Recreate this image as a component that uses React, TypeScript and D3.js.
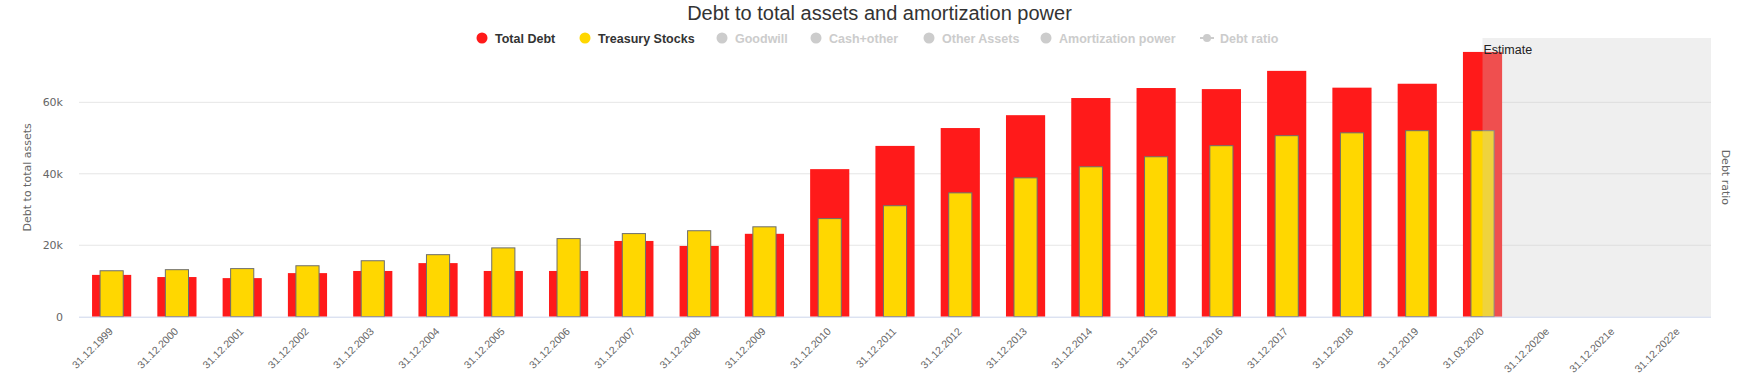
import * as d3 from 'd3';

const categories = [
  '31.12.1999', '31.12.2000', '31.12.2001', '31.12.2002', '31.12.2003',
  '31.12.2004', '31.12.2005', '31.12.2006', '31.12.2007', '31.12.2008',
  '31.12.2009', '31.12.2010', '31.12.2011', '31.12.2012', '31.12.2013',
  '31.12.2014', '31.12.2015', '31.12.2016', '31.12.2017', '31.12.2018',
  '31.12.2019', '31.03.2020', '31.12.2020e', '31.12.2021e', '31.12.2022e',
];

const totalDebt = [
  11700, 11100, 10800, 12200, 12800, 15000, 12800, 12800, 21200, 19800,
  23200, 41300, 47800, 52800, 56400, 61200, 64000, 63700, 68800, 64100,
  65200, 74100, null, null, null,
];

const treasuryStocks = [
  13000, 13300, 13600, 14400, 15800, 17500, 19400, 22000, 23400, 24200,
  25300, 27600, 31200, 34800, 39000, 42100, 44900, 48000, 50800, 51600,
  52200, 52200, null, null, null,
];

const yTicks = [0, 20000, 40000, 60000];

const legendNames = ['Total Debt', 'Treasury Stocks', 'Goodwill', 'Cash+other', 'Other Assets', 'Amortization power', 'Debt ratio'];
const legendColors = ['#ff1a1a', '#ffd700', '#cccccc', '#cccccc', '#cccccc', '#cccccc', '#cccccc'];
const legendActive = [true, true, false, false, false, false, false];
// x of each legend symbol
const legendX = [482, 585, 722, 816, 929, 1046, 1207];

const estimateFrom = '31.03.2020';

const specs = {
  width: 1759,
  height: 391,
  left: 79,
  right: 1711,
  top: 38,
  bottom: 316.7,
};

const font = "'Liberation Sans', Arial, sans-serif";

const App = () => {
  const x = d3.scaleBand().domain(categories).range([specs.left, specs.right]);
  const y = d3.scaleLinear().domain([0, 78000]).range([specs.bottom, specs.top]);
  const bw = x.bandwidth();
  const redW = bw * 0.6;
  const yellowW = bw * 0.37;

  const bandX = (x(estimateFrom) as number) + bw / 2;

  const fmt = (d: number) => (d === 0 ? '0' : `${d / 1000}k`);

  return (
    <div style={{ position: 'absolute', left: 0, top: 0 }}>
      <svg width={specs.width} height={specs.height} style={{ display: 'block', background: '#fff' }} fontFamily={font}>
        {/* title */}
        <text x={specs.width / 2} y={19.5} textAnchor="middle" fontSize={20} fill="#333">
          Debt to total assets and amortization power
        </text>

        {/* legend */}
        {legendNames.map((name, i) => {
          const lx = legendX[i];
          const isLine = name === 'Debt ratio';
          return (
            <g key={name}>
              {isLine && <line x1={lx - 7} x2={lx + 7} y1={38} y2={38} stroke={legendColors[i]} strokeWidth={2} />}
              <circle cx={lx} cy={38} r={isLine ? 4 : 5.5} fill={legendColors[i]} />
              <text
                x={lx + 13}
                y={42.5}
                fontSize={12.5}
                fontWeight={700}
                fill={legendActive[i] ? '#333' : '#cccccc'}
              >
                {name}
              </text>
            </g>
          );
        })}

        {/* grid */}
        {yTicks.slice(1).map((t) => (
          <line key={t} x1={specs.left} x2={specs.right} y1={y(t)} y2={y(t)} stroke="#e6e6e6" strokeWidth={1} />
        ))}

        {/* y labels */}
        {yTicks.map((t) => (
          <text key={t} x={63} y={y(t) + 4} textAnchor="end" fontSize={11} fill="#666" fontFamily="'DejaVu Sans', sans-serif">
            {fmt(t)}
          </text>
        ))}
        <text
          transform={`translate(28, ${(specs.top + specs.bottom) / 2}) rotate(-90)`}
          textAnchor="middle"
          dominantBaseline="middle"
          fontSize={11}
          fill="#666"
          fontFamily="'DejaVu Sans', sans-serif"
        >
          Debt to total assets
        </text>
        <text
          transform={`translate(1725, ${(specs.top + specs.bottom) / 2}) rotate(90)`}
          textAnchor="middle"
          dominantBaseline="middle"
          fontSize={11}
          fill="#666"
          fontFamily="'DejaVu Sans', sans-serif"
        >
          Debt ratio
        </text>

        {/* bars */}
        {categories.map((c, i) => {
          const cx = (x(c) as number) + bw / 2;
          const d = totalDebt[i];
          const s = treasuryStocks[i];
          return (
            <g key={c}>
              {d != null && (
                <rect x={cx - redW / 2} y={y(d)} width={redW} height={specs.bottom - y(d)} fill="#ff1a1a" />
              )}
              {s != null && (
                <rect
                  x={cx - yellowW / 2 + 0.5}
                  y={y(s) + 0.5}
                  width={yellowW - 1}
                  height={specs.bottom - y(s) - 0.5}
                  fill="#ffd700"
                  stroke="#6e6e6e"
                  strokeWidth={1}
                />
              )}
            </g>
          );
        })}

        {/* estimate band */}
        <rect x={bandX} y={specs.top} width={specs.right - bandX} height={specs.bottom - specs.top} fill="rgb(202,202,202)" fillOpacity={0.3} />
        <text x={bandX + 1} y={54} fontSize={12.5} fill="#222">
          Estimate
        </text>

        {/* x axis */}
        <line x1={specs.left} x2={specs.right} y1={specs.bottom + 0.5} y2={specs.bottom + 0.5} stroke="#ccd6eb" strokeWidth={1} />
        {categories.map((c) => {
          const cx = (x(c) as number) + bw / 2;
          return (
            <text
              key={c}
              transform={`translate(${cx + 2}, 332) rotate(-45)`}
              textAnchor="end"
              fontSize={10.5}
              fill="#666"
            >
              {c}
            </text>
          );
        })}
      </svg>
    </div>
  );
};

export default App;
